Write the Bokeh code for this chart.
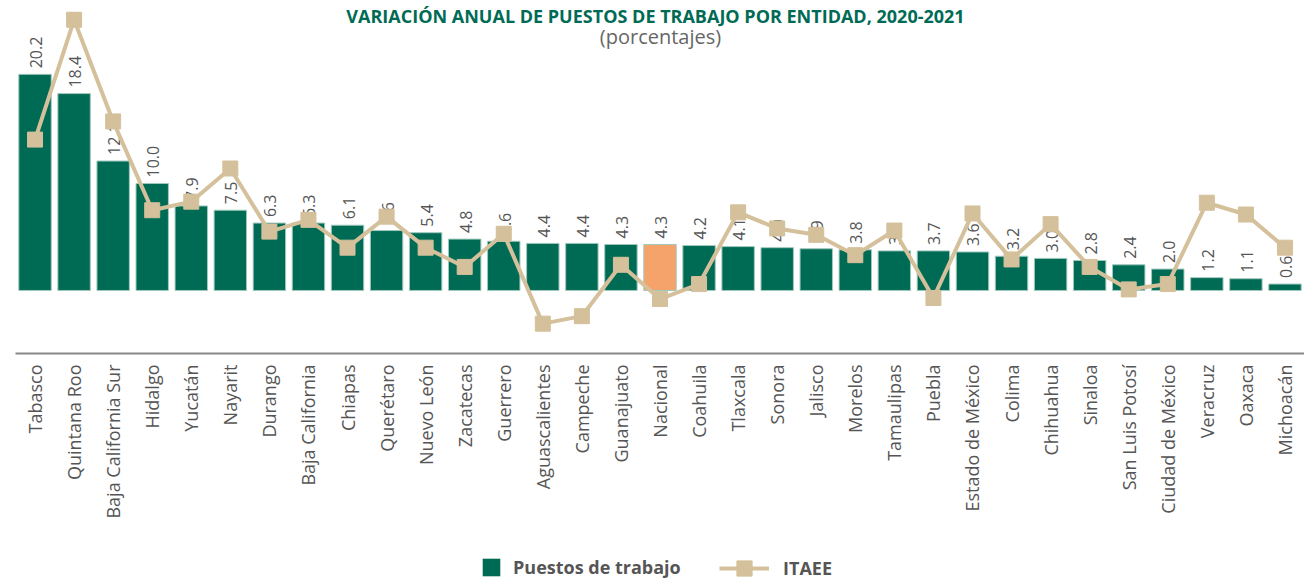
import math
from bokeh.plotting import figure
from bokeh.layouts import column
from bokeh.models import ColumnDataSource, Legend, LegendItem, Label, FactorRange, Range1d
from bokeh.core.properties import value
from bokeh.embed import file_html
from bokeh.resources import INLINE

# ---- data ----
entidades = ["Tabasco", "Quintana Roo", "Baja California Sur", "Hidalgo", "Yucatán",
             "Nayarit", "Durango", "Baja California", "Chiapas", "Querétaro",
             "Nuevo León", "Zacatecas", "Guerrero", "Aguascalientes", "Campeche",
             "Guanajuato", "Nacional", "Coahuila", "Tlaxcala", "Sonora", "Jalisco",
             "Morelos", "Tamaulipas", "Puebla", "Estado de México", "Colima",
             "Chihuahua", "Sinaloa", "San Luis Potosí", "Ciudad de México",
             "Veracruz", "Oaxaca", "Michoacán"]
puestos = [20.2, 18.4, 12.1, 10.0, 7.9, 7.5, 6.3, 6.3, 6.1, 5.6, 5.4, 4.8, 4.6, 4.4,
           4.4, 4.3, 4.3, 4.2, 4.1, 4.0, 3.9, 3.8, 3.7, 3.7, 3.6, 3.2, 3.0, 2.8, 2.4,
           2.0, 1.2, 1.1, 0.6]
itaee = [14.1, 25.3, 15.8, 7.5, 8.3, 11.4, 5.5, 6.6, 4.0, 6.9, 4.0, 2.2, 5.3, -3.1,
         -2.4, 2.4, -0.8, 0.6, 7.3, 5.8, 5.2, 3.3, 5.6, -0.7, 7.2, 2.9, 6.2, 2.2,
         0.1, 0.6, 8.2, 7.1, 4.0]

GREEN = "#006B55"
ORANGE = "#F5A26B"
SAND = "#D4C09A"
GRAY = "#555555"
FONT = "Open Sans"

colors = [ORANGE if e == "Nacional" else GREEN for e in entidades]
src = ColumnDataSource(dict(x=entidades, top=puestos, itaee=itaee, color=colors,
                            lab=[f"{v:.1f}" for v in puestos]))

xr = FactorRange(*entidades, range_padding=0)
p = figure(x_range=xr, y_range=(-5.89, 27.1),
           width=1304, height=540, output_backend="svg", toolbar_location=None,
           min_border_left=15, min_border_right=0, min_border_top=0,
           min_border_bottom=187)
p.outline_line_color = None
p.xgrid.grid_line_color = None
p.ygrid.grid_line_color = None
p.yaxis.visible = False

bars = p.vbar(x="x", top="top", width=0.83, source=src, fill_color="color",
              line_color="#9fc9bd", line_width=1)

p.text(x="x", y="top", text="lab", source=src, angle=math.pi / 2,
       text_align="left", text_baseline="middle", y_offset=-6, x_offset=1,
       text_color=GRAY, text_font=value(FONT), text_font_size="16px")

ln = p.line(x="x", y="itaee", source=src, line_color=SAND, line_width=4)
mk = p.scatter(x="x", y="itaee", source=src, marker="square", size=15,
               fill_color=SAND, line_color=SAND)

ax = p.xaxis[0]
ax.axis_line_color = "#888888"
ax.axis_line_width = 2
ax.major_tick_line_color = None
ax.minor_tick_line_color = None
ax.major_tick_out = 0
ax.major_label_standoff = 11
ax.major_label_orientation = math.pi / 2
ax.major_label_text_font = FONT
ax.major_label_text_font_size = "18px"
ax.major_label_text_color = GRAY

# title / subtitle
p.add_layout(Label(x=640, y=338, x_units="screen", y_units="screen",
                   text="VARIACIÓN ANUAL DE PUESTOS DE TRABAJO POR ENTIDAD, 2020-2021",
                   text_align="center", text_baseline="alphabetic",
                   text_font=FONT, text_font_style="bold", text_font_size="18px",
                   text_color=GREEN))
p.add_layout(Label(x=645, y=317, x_units="screen", y_units="screen",
                   text="(porcentajes)", text_align="center",
                   text_baseline="alphabetic", text_font=FONT,
                   text_font_size="20px", text_color="#666666"))

# legend strip (same data, drawn out of view so only the legend shows)
lg = figure(x_range=xr, y_range=Range1d(100, 101), width=1304, height=40,
            output_backend="svg", toolbar_location=None, min_border=0)
lg.outline_line_color = None
lg.xaxis.visible = False
lg.yaxis.visible = False
lg.xgrid.visible = False
lg.ygrid.visible = False
d_bar = lg.vbar(x="x", top="top", width=0.5, source=src, fill_color=GREEN, line_color=None)
d_ln = lg.line(x="x", y="itaee", source=src, line_color=SAND, line_width=4)
d_mk = lg.scatter(x="x", y="itaee", source=src, marker="square", fill_color=SAND,
                  line_color=SAND)

common = dict(border_line_color=None, background_fill_alpha=0, padding=0,
              margin=0, label_text_font=FONT, label_text_font_size="18px",
              label_text_font_style="bold", label_text_color=GRAY)
leg1 = Legend(items=[LegendItem(label="Puestos de trabajo", renderers=[d_bar])],
              location=(465, 1), glyph_width=22, glyph_height=22,
              label_standoff=11, **common)
leg2 = Legend(items=[LegendItem(label="ITAEE", renderers=[d_ln, d_mk])],
              location=(704, -7), glyph_width=50, glyph_height=38,
              label_standoff=14, **common)
lg.add_layout(leg1)
lg.add_layout(leg2)

layout = column(p, lg, spacing=0)
open("out.html", "w").write(file_html(layout, INLINE))
